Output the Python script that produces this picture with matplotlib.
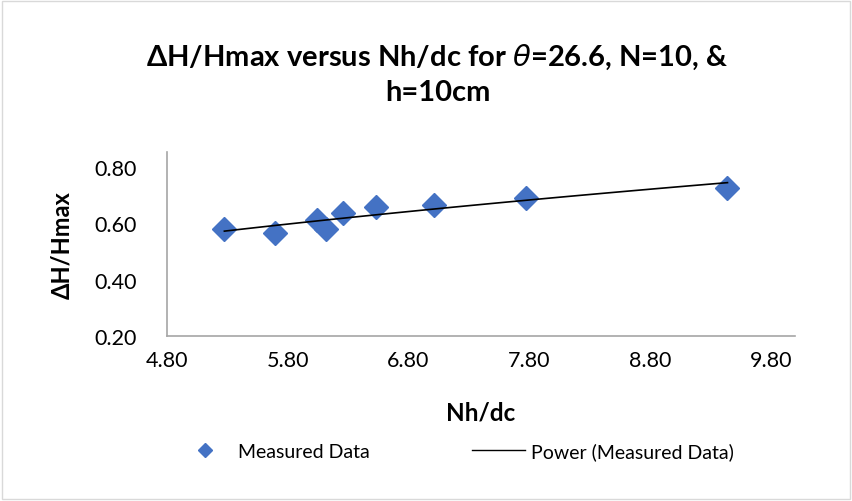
import numpy as np
import matplotlib
matplotlib.use("Agg")
import matplotlib.pyplot as plt
from matplotlib.lines import Line2D

nh_dc = [5.275, 5.696, 6.041, 6.118, 6.254, 6.530, 7.014, 7.774, 9.441]
dh_hmax = [0.579, 0.566, 0.613, 0.581, 0.636, 0.657, 0.666, 0.689, 0.727]
x_ticks = [4.80, 5.80, 6.80, 7.80, 8.80, 9.80]
y_ticks = [0.20, 0.40, 0.60, 0.80]

plt.rcParams['font.family'] = ['Lato', 'DejaVu Sans']

fig = plt.figure(figsize=(8.53, 5.02), dpi=100)
ax = fig.add_axes([0.1958, 0.3287, 0.932 - 0.1958, 0.695 - 0.3287])

blue = '#4472C4'
ax.plot(nh_dc, dh_hmax, linestyle='none', marker='D', markersize=12.5,
        color=blue, markeredgecolor=blue, zorder=3)

# power trend line y = a * x^b
b, loga = np.polyfit(np.log(nh_dc), np.log(dh_hmax), 1)
xs = np.linspace(min(nh_dc), max(nh_dc), 100)
ax.plot(xs, np.exp(loga) * xs ** b, color='black', linewidth=1.2, zorder=4)

ax.set_xlim(4.8, 10.0)
ax.set_ylim(0.2, 0.853)
ax.set_xticks(x_ticks)
ax.set_xticklabels([f"{v:.2f}" for v in x_ticks])
ax.set_yticks(y_ticks)
ax.set_yticklabels([f"{v:.2f}" for v in y_ticks])
ax.tick_params(axis='x', length=0, labelsize=15.5, colors='#000000', pad=10)
ax.tick_params(axis='y', length=0, labelsize=15.5, colors='#000000', pad=22)
for s in ['top', 'right']:
    ax.spines[s].set_visible(False)
for s in ['left', 'bottom']:
    ax.spines[s].set_color('#a6a6a6')
    ax.spines[s].set_linewidth(1.2)

ax.set_xlabel('Nh/dc', fontsize=17.5, fontweight='bold', labelpad=22)
ax.set_ylabel('ΔH/Hmax', fontsize=17, fontweight='bold', labelpad=15)

fig.text(0.513, 0.886, r'ΔH/Hmax versus Nh/dc for $\theta$=26.6, N=10, &',
         ha='center', va='center', fontsize=21, fontweight='bold')
fig.text(0.513, 0.814, 'h=10cm', ha='center', va='center', fontsize=21, fontweight='bold')

handles = [Line2D([], [], linestyle='none', marker='D', markersize=7.5, color=blue),
           Line2D([], [], color='black', linewidth=1.0)]
fig.legend(handles, ['Measured Data', 'Power (Measured Data)'], loc='center',
           bbox_to_anchor=(0.535, 0.1), ncol=2, frameon=False, fontsize=14,
           columnspacing=5.3, handlelength=2.7, handletextpad=0.3)

border = plt.Rectangle((0.002, 0.003), 0.994, 0.993, transform=fig.transFigure,
                       fill=False, edgecolor='#d9d9d9', linewidth=1)
fig.add_artist(border)

fig.savefig('out.png', dpi=100)
